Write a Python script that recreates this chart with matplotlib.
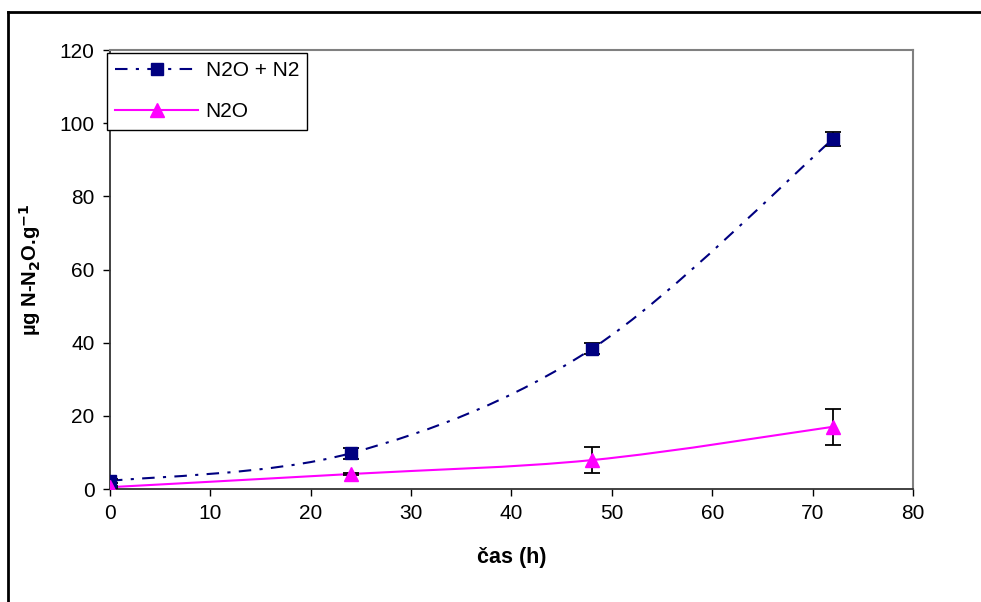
from matplotlib import pyplot as plt
from matplotlib.path import Path
from matplotlib.patches import PathPatch
from matplotlib.lines import Line2D
import numpy as np

plt.rcParams['font.family'] = ['Liberation Sans', 'DejaVu Sans']

# sampling times (h) and measured amounts
time_h = [0, 24, 48, 72]
total_n = [2.2, 9.8, 38.3, 95.6]      # N2O + N2
total_err = [0.5, 1.5, 1.5, 1.9]
n2o = [0.5, 4.1, 7.9, 17.0]           # N2O
n2o_err = [0.3, 0.3, 3.6, 4.9]

navy = '#000080'
pink = '#ff00ff'
dash_dot = (0, (6, 4, 1.5, 4))


def smooth_path(x, y):
	# bezier segments through the points, like a spreadsheet "smoothed line"
	p = np.column_stack([x, y]).astype(float)
	pts = np.vstack([p[0], p, p[-1]])
	verts = [p[0]]
	codes = [Path.MOVETO]
	for i in range(1, len(pts) - 2):
		c1 = pts[i] + (pts[i + 1] - pts[i - 1]) / 6
		c2 = pts[i + 1] - (pts[i + 2] - pts[i]) / 6
		verts += [c1, c2, pts[i + 1]]
		codes += [Path.CURVE4] * 3
	return Path(verts, codes)


fig = plt.figure(figsize=(9.81, 6.02), dpi=100)
ax = fig.add_axes([0.1121, 0.1877, 0.8186, 0.7292])

ax.add_patch(PathPatch(smooth_path(time_h, total_n), fill=False, edgecolor=navy,
	lw=1.5, linestyle=dash_dot, zorder=2))
ax.add_patch(PathPatch(smooth_path(time_h, n2o), fill=False, edgecolor=pink,
	lw=1.5, zorder=2))

ax.errorbar(time_h, total_n, yerr=total_err, fmt='none', ecolor='black',
	elinewidth=1.3, capsize=6, capthick=1.3, zorder=3)
ax.errorbar(time_h, n2o, yerr=n2o_err, fmt='none', ecolor='black',
	elinewidth=1.3, capsize=6, capthick=1.3, zorder=3)
ax.plot(time_h, total_n, 's', color=navy, markersize=8.5, zorder=4)
ax.plot(time_h, n2o, '^', color=pink, markersize=10, zorder=4)

ax.set_xlim(0, 80)
ax.set_ylim(0, 120)
ax.set_xticks(range(0, 81, 10))
ax.set_yticks(range(0, 121, 20))
ax.tick_params(direction='out', length=5, width=1, labelsize=15, pad=6)
ax.spines['left'].set_color('#333333')
ax.spines['bottom'].set_color('#333333')
ax.spines['left'].set_linewidth(1.3)
ax.spines['bottom'].set_linewidth(1.3)
ax.spines['top'].set_color('#808080')
ax.spines['right'].set_color('#808080')
ax.spines['top'].set_linewidth(1.5)
ax.spines['right'].set_linewidth(1.5)

ax.set_xlabel('čas (h)', fontsize=15.5, fontweight='bold', labelpad=17)
ax.set_ylabel('µg N-N$_\\mathbf{2}$O.g$^{\\mathbf{-1}}$', fontsize=14.5,
	fontweight='bold', labelpad=12)

handles = [
	Line2D([], [], color=navy, lw=1.5, linestyle=dash_dot, marker='s', markersize=8.5),
	Line2D([], [], color=pink, lw=1.5, marker='^', markersize=10),
]
leg = ax.legend(handles, ['N2O + N2', 'N2O'], loc='upper left',
	bbox_to_anchor=(-0.004, 0.993), fontsize=15, frameon=True, fancybox=False,
	edgecolor='black', framealpha=1, borderpad=0.4, handlelength=4.0,
	handletextpad=0.35, labelspacing=1.05, borderaxespad=0)
leg.get_frame().set_linewidth(1.0)

# outer chart frame
fig.add_artist(Line2D([8 / 981, 1], [1 - 12 / 602, 1 - 12 / 602],
	transform=fig.transFigure, color='black', lw=2))
fig.add_artist(Line2D([8 / 981, 8 / 981], [0, 1 - 12 / 602],
	transform=fig.transFigure, color='black', lw=2))

plt.savefig('out.png', dpi=100)
